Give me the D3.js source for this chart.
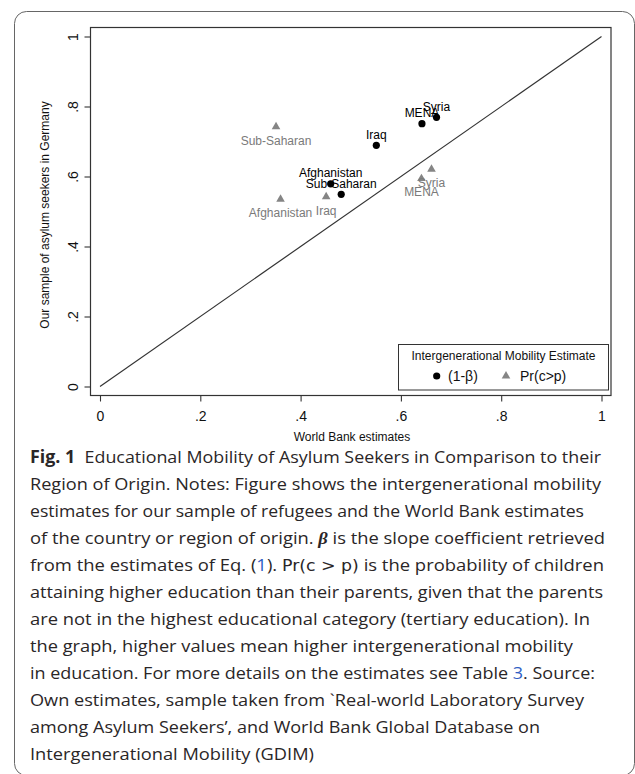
<!DOCTYPE html>
<html>
<head>
<meta charset="utf-8">
<script src="https://cdn.jsdelivr.net/npm/d3@7"></script>
<style>
  body { margin: 0; background: #fff; }
  svg { display: block; }
  .tick line { stroke: #333; stroke-width: 1.1; }
  .tick text { font-family: "Liberation Sans", Arial, sans-serif; font-size: 14px; fill: #111; }
  .axis-label { font-family: "Liberation Sans", Arial, sans-serif; font-size: 12px; fill: #111; }
  .caption { font-family: "Open Sans", "Noto Sans", sans-serif; font-size: 17px; fill: #2a2627; white-space: pre; }
</style>
</head>
<body>
<svg id="chart" width="635" height="774"></svg>
<script>
// values
const regions = ["Syria", "MENA", "Iraq", "Afghanistan", "Sub-Saharan"];
const betaWorldBank = [0.671, 0.642, 0.551, 0.460, 0.481];
const betaSample = [0.769, 0.751, 0.689, 0.579, 0.549];
const prWorldBank = [0.661, 0.641, 0.451, 0.360, 0.351];
const prSample = [0.621, 0.594, 0.542, 0.535, 0.742];
const tickValues = [0, 0.2, 0.4, 0.6, 0.8, 1];
const tickLabels = ["0", ".2", ".4", ".6", ".8", "1"];

const captionLines = [
  [["Fig. 1", "b"], ["  Educational Mobility of Asylum Seekers in Comparison to their", ""]],
  [["Region of Origin. Notes: Figure shows the intergenerational mobility", ""]],
  [["estimates for our sample of refugees and the World Bank estimates", ""]],
  [["of the country or region of origin. ", ""], ["β", "i"], [" is the slope coefficient retrieved", ""]],
  [["from the estimates of Eq. (", ""], ["1", "l"], ["). ", ""], ["Pr(c > p)", "m"], [" is the probability of children", ""]],
  [["attaining higher education than their parents, given that the parents", ""]],
  [["are not in the highest educational category (tertiary education). In", ""]],
  [["the graph, higher values mean higher intergenerational mobility", ""]],
  [["in education. For more details on the estimates see Table ", ""], ["3", "l"], [". Source:", ""]],
  [["Own estimates, sample taken from `Real-world Laboratory Survey", ""]],
  [["among Asylum Seekers’, and World Bank Global Database on", ""]],
  [["Intergenerational Mobility (GDIM)", ""]]
];
const captionWidths = [571, 571, 554, 575, 574, 573, 560, 543, 565, 554, 510, 284];

const frame = {left: 90.5, right: 611, top: 27.5, bottom: 395.5};
const dotColor = "#000";
const triColor = "#858585";

const svg = d3.select("#chart");

// card outline
svg.append("rect")
  .attr("x", 14.5).attr("y", 11.5)
  .attr("width", 620).attr("height", 764)
  .attr("rx", 12)
  .attr("fill", "none")
  .attr("stroke", "#666")
  .attr("stroke-width", 1);

const x = d3.scaleLinear().domain([0, 1]).range([100, 601.5]);
const y = d3.scaleLinear().domain([0, 1]).range([386.5, 36.5]);

// plot region frame
svg.append("rect")
  .attr("x", frame.left).attr("y", frame.top)
  .attr("width", frame.right - frame.left)
  .attr("height", frame.bottom - frame.top)
  .attr("fill", "none")
  .attr("stroke", "#333")
  .attr("stroke-width", 1.2);

const yAxis = d3.axisLeft(y)
  .tickValues(tickValues)
  .tickFormat((d, i) => tickLabels[i])
  .tickSize(6);

svg.append("g")
  .attr("class", "y-axis")
  .attr("transform", `translate(${frame.left},0)`)
  .call(yAxis)
  .call(g => g.select(".domain").remove())
  .selectAll(".tick text")
  .attr("x", null).attr("dy", null)
  .attr("text-anchor", "middle")
  .attr("transform", "translate(-12.5,0) rotate(-90)");

const xAxis = d3.axisBottom(x)
  .tickValues(tickValues)
  .tickFormat((d, i) => tickLabels[i])
  .tickSize(6);

svg.append("g")
  .attr("class", "x-axis")
  .attr("transform", `translate(0,${frame.bottom})`)
  .call(xAxis)
  .call(g => g.select(".domain").remove())
  .selectAll(".tick text")
  .attr("y", 25).attr("dy", null);

svg.append("text")
  .attr("class", "axis-label")
  .attr("x", 352)
  .attr("y", 441)
  .attr("text-anchor", "middle")
  .text("World Bank estimates");

svg.append("text")
  .attr("class", "axis-label")
  .attr("transform", "translate(49,215) rotate(-90)")
  .attr("text-anchor", "middle")
  .text("Our sample of asylum seekers in Germany");

// 45 degree line
svg.append("line")
  .attr("x1", x(0)).attr("y1", y(0))
  .attr("x2", x(1)).attr("y2", y(1))
  .attr("stroke", "#333")
  .attr("stroke-width", 1.2);

const betaData = regions.map((r, i) => ({name: r, wb: betaWorldBank[i], own: betaSample[i]}));
const prData = regions.map((r, i) => ({name: r, wb: prWorldBank[i], own: prSample[i]}));

const triangle = d3.symbol(d3.symbolTriangle).size(32);

svg.append("g").selectAll("path")
  .data(prData)
  .enter()
  .append("path")
  .attr("d", triangle)
  .attr("transform", d => `translate(${x(d.wb)},${y(d.own)})`)
  .attr("fill", triColor);

svg.append("g").selectAll("text")
  .data(prData)
  .enter()
  .append("text")
  .attr("x", d => x(d.wb))
  .attr("y", d => y(d.own) + 17.8)
  .attr("text-anchor", "middle")
  .attr("font-family", "Liberation Sans, Arial, sans-serif")
  .attr("font-size", 12)
  .attr("fill", "#7a7a7a")
  .text(d => d.name);

svg.append("g").selectAll("circle")
  .data(betaData)
  .enter()
  .append("circle")
  .attr("cx", d => x(d.wb))
  .attr("cy", d => y(d.own))
  .attr("r", 3.6)
  .attr("fill", dotColor);

svg.append("g").selectAll("text")
  .data(betaData)
  .enter()
  .append("text")
  .attr("x", d => x(d.wb))
  .attr("y", d => y(d.own) - 6.5)
  .attr("text-anchor", "middle")
  .attr("font-family", "Liberation Sans, Arial, sans-serif")
  .attr("font-size", 12)
  .attr("fill", "#000")
  .text(d => d.name);

// legend
const legend = svg.append("g");
legend.append("rect")
  .attr("x", 398.5).attr("y", 344.5)
  .attr("width", 210).attr("height", 45.5)
  .attr("fill", "#fff")
  .attr("stroke", "#333")
  .attr("stroke-width", 1);
legend.append("text")
  .attr("x", 503.5).attr("y", 360)
  .attr("text-anchor", "middle")
  .attr("font-family", "Liberation Sans, Arial, sans-serif")
  .attr("font-size", 12)
  .attr("fill", "#111")
  .text("Intergenerational Mobility Estimate");
legend.append("circle")
  .attr("cx", 436.7).attr("cy", 376)
  .attr("r", 3.6)
  .attr("fill", dotColor);
legend.append("text")
  .attr("x", 448).attr("y", 381)
  .attr("font-family", "Liberation Sans, Arial, sans-serif")
  .attr("font-size", 14)
  .attr("fill", "#111")
  .text("(1-β)");
legend.append("path")
  .attr("d", triangle)
  .attr("transform", "translate(506,376)")
  .attr("fill", triColor);
legend.append("text")
  .attr("x", 520).attr("y", 381)
  .attr("font-family", "Liberation Sans, Arial, sans-serif")
  .attr("font-size", 14)
  .attr("fill", "#111")
  .text("Pr(c>p)");

// caption
const caption = svg.append("g");
captionLines.forEach((line, i) => {
  const t = caption.append("text")
    .attr("class", "caption")
    .attr("x", 30)
    .attr("y", 463 + i * 27)
    .attr("textLength", captionWidths[i])
    .attr("lengthAdjust", "spacingAndGlyphs");
  line.forEach(([txt, style]) => {
    const s = t.append("tspan").text(txt);
    if (style === "b") s.attr("font-weight", "bold");
    if (style === "l") s.attr("fill", "#2f5ec4");
    if (style === "m") s.attr("font-family", "DejaVu Sans, sans-serif").attr("font-size", 16);
    if (style === "i") s.attr("font-family", "Liberation Serif, serif").attr("font-style", "italic").attr("font-weight", "bold");
  });
});
</script>
</body>
</html>
